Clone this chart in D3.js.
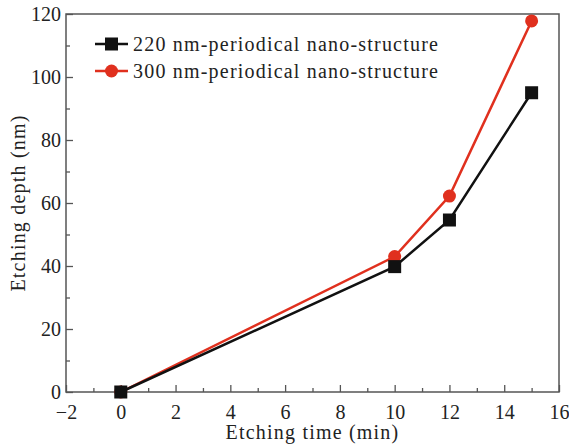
<!DOCTYPE html>
<html lang="en">
<head>
<meta charset="UTF-8">
<title>Etching depth</title>
<script src="https://d3js.org/d3.v7.min.js"></script>
<style>
  body { margin: 0; background: #fff; }
  text { font-family: "Liberation Serif", serif; fill: #222; }
  .wide { letter-spacing: 1.2px; }
</style>
</head>
<body>
<svg id="chart" width="569" height="447"></svg>
<script>
// data
const times = [0, 10, 12, 15];
const depth220 = [0, 39.8, 54.6, 95];
const depth300 = [0, 43, 62.2, 117.8];
const seriesNames = ["220 nm-periodical nano-structure", "300 nm-periodical nano-structure"];
const xTicks = [-2, 0, 2, 4, 6, 8, 10, 12, 14, 16];
const yTicks = [0, 20, 40, 60, 80, 100, 120];

const svg = d3.select("#chart");
const plotL = 66, plotR = 559, plotT = 14, plotB = 392;
const fontSize = 20;

const x = d3.scaleLinear().domain([-2, 16]).range([plotL, plotR]);
const y = d3.scaleLinear().domain([0, 120]).range([plotB, plotT]);

// frame
svg.append("rect")
  .attr("x", plotL).attr("y", plotT)
  .attr("width", plotR - plotL).attr("height", plotB - plotT)
  .attr("fill", "none").attr("stroke", "#555").attr("stroke-width", 1.5);

// bottom axis ticks (inward)
const xMinor = svg.append("g").attr("transform", `translate(0,${plotB})`)
  .call(d3.axisBottom(x).tickValues(d3.range(-1, 16, 2)).tickSize(-4).tickFormat(""));
const xAxis = svg.append("g").attr("transform", `translate(0,${plotB})`)
  .call(d3.axisBottom(x).tickValues(xTicks).tickSize(-7).tickFormat(d => d < 0 ? "\u2212" + Math.abs(d) : d));

// left axis ticks (inward)
const yMinor = svg.append("g").attr("transform", `translate(${plotL},0)`)
  .call(d3.axisLeft(y).tickValues(d3.range(10, 120, 20)).tickSize(-4).tickFormat(""));
const yAxis = svg.append("g").attr("transform", `translate(${plotL},0)`)
  .call(d3.axisLeft(y).tickValues(yTicks).tickSize(-7));

[xMinor, xAxis, yMinor, yAxis].forEach(a => {
  a.attr("font-family", null).attr("font-size", fontSize);
  a.selectAll(".domain").remove();
  a.selectAll("line").attr("stroke", "#555").attr("stroke-width", 1.3);
  a.selectAll("text").attr("fill", "#222");
});
xAxis.selectAll("text").attr("y", 13);
yAxis.selectAll("text").attr("x", -5);

// axis titles
svg.append("text").attr("class", "wide")
  .attr("x", (plotL + plotR) / 2).attr("y", 439)
  .attr("text-anchor", "middle").attr("font-size", fontSize)
  .text("Etching time (min)");
svg.append("text").attr("class", "wide")
  .attr("transform", `translate(25,${(plotT + plotB) / 2}) rotate(-90)`)
  .attr("text-anchor", "middle").attr("font-size", fontSize)
  .text("Etching depth (nm)");

const line = d3.line().x(d => x(d[0])).y(d => y(d[1]));
const series = [
  { name: seriesNames[0], vals: depth220, color: "#111", shape: "square" },
  { name: seriesNames[1], vals: depth300, color: "#e0301e", shape: "circle" }
];

function marker(g, s, cx, cy) {
  if (s.shape === "square") {
    g.append("rect").attr("x", cx - 6.5).attr("y", cy - 6.5)
      .attr("width", 13).attr("height", 13).attr("fill", s.color);
  } else {
    g.append("circle").attr("cx", cx).attr("cy", cy).attr("r", 6.5).attr("fill", s.color);
  }
}

// red first so black sits on top at the origin
[series[1], series[0]].forEach(s => {
  const pts = times.map((t, i) => [t, s.vals[i]]);
  const g = svg.append("g");
  g.append("path").datum(pts).attr("d", line)
    .attr("fill", "none").attr("stroke", s.color).attr("stroke-width", 2.5);
  pts.forEach(p => marker(g, s, x(p[0]), y(p[1])));
});

// legend
series.forEach((s, i) => {
  const ly = 44 + i * 27;
  const g = svg.append("g");
  g.append("line").attr("x1", 95).attr("x2", 128).attr("y1", ly).attr("y2", ly)
    .attr("stroke", s.color).attr("stroke-width", 2.5);
  marker(g, s, 111.5, ly);
  g.append("text").attr("class", "wide").attr("x", 133).attr("y", ly + 6.5)
    .attr("font-size", fontSize).text(s.name);
});
</script>
</body>
</html>
